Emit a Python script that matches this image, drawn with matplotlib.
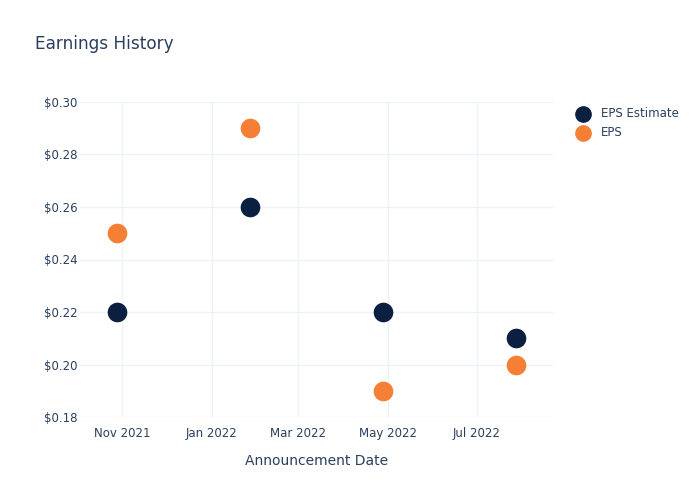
import matplotlib
matplotlib.use("Agg")
import matplotlib.pyplot as plt
import datetime as dt

dates = ["2021-10-28", "2022-01-27", "2022-04-28", "2022-07-28"]
eps_estimate = [0.22, 0.26, 0.22, 0.21]
eps_actual = [0.25, 0.29, 0.19, 0.20]
y_ticks = [0.18, 0.20, 0.22, 0.24, 0.26, 0.28, 0.30]
x_ticks = ["2021-11-01", "2022-01-01", "2022-03-01", "2022-05-01", "2022-07-01"]
x_tick_labels = ["Nov 2021", "Jan 2022", "Mar 2022", "May 2022", "Jul 2022"]

plt.rcParams['font.family'] = ['DejaVu Sans']
text_color = "#2a3f5f"
grid_color = "#eef2f8"
navy = "#0b1f41"
orange = "#f57f35"

d = [dt.datetime.fromisoformat(s) for s in dates]
fig = plt.figure(figsize=(7, 5), dpi=100)
ax = fig.add_axes([80/700, 1-417/500, (553-80)/700, (417-102)/500])

ax.scatter(d, eps_estimate, s=200, color=navy, label="EPS Estimate", zorder=3, linewidths=0)
ax.scatter(d, eps_actual, s=200, color=orange, label="EPS", zorder=3, linewidths=0)

ax.set_xlim(dt.datetime(2021, 10, 3), dt.datetime(2022, 8, 22))
ax.set_ylim(0.18, 0.30)
ax.set_yticks(y_ticks)
ax.set_yticklabels([f"${v:.2f}" for v in y_ticks])
ax.set_xticks([dt.datetime.fromisoformat(s) for s in x_ticks])
ax.set_xticklabels(x_tick_labels)

for s in ax.spines.values():
    s.set_visible(False)
ax.grid(True, color=grid_color, linewidth=1)
ax.set_axisbelow(True)
ax.tick_params(axis="y", length=0, colors=text_color, labelsize=8.5, pad=2)
ax.tick_params(axis="x", length=0, colors=text_color, labelsize=8.5, pad=7)

ax.set_xlabel("Announcement Date", color=text_color, fontsize=10, labelpad=10)
fig.text(35/700, 1-44/500, "Earnings History", color=text_color, fontsize=12.2, va="center", ha="left")

leg = ax.legend(loc="upper left", bbox_to_anchor=(1.028, 1.0), frameon=False,
                fontsize=8.5, labelcolor=text_color, handletextpad=0.55, borderaxespad=0,
                labelspacing=0.5, markerscale=0.85)

fig.savefig("out.png", dpi=100)
